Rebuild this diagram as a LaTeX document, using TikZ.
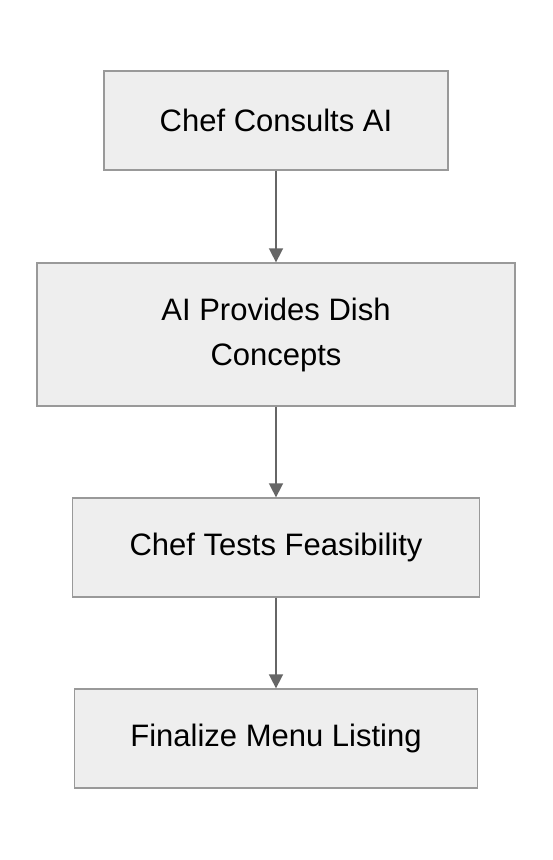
\documentclass[tikz,border=0pt]{standalone}
\usepackage{fontspec}
\setmainfont{Liberation Sans}
\usepackage{tikz}
\usetikzlibrary{arrows.meta}

\definecolor{boxfill}{HTML}{EEEEEE}
\definecolor{boxline}{HTML}{999999}
\definecolor{flowline}{HTML}{666666}

\tikzset{
	stepbox/.style={draw=boxline, fill=boxfill, line width=1.3pt, align=center, inner sep=0pt, font=\fontsize{31}{45}\selectfont},
	flow/.style={draw=flowline, line width=1.6pt, -{Triangle[length=14pt, width=14pt]}}
}

\begin{document}
\begin{tikzpicture}[x=1pt, y=-1pt]
	\useasboundingbox (0,0) rectangle (552,860);
	\node[stepbox, minimum width=344pt, minimum height=99pt] (consult) at (276,120.5) {Chef Consults AI};
	\node[stepbox, minimum width=478pt, minimum height=143pt] (concepts) at (276,334.5) {AI Provides Dish\\Concepts};
	\node[stepbox, minimum width=407pt, minimum height=99pt] (tests) at (276,547.5) {Chef Tests Feasibility};
	\node[stepbox, minimum width=403pt, minimum height=99pt] (menu) at (276,738.5) {Finalize Menu Listing};
	\draw[flow] (consult) -- (concepts);
	\draw[flow] (concepts) -- (tests);
	\draw[flow] (tests) -- (menu);
\end{tikzpicture}
\end{document}
